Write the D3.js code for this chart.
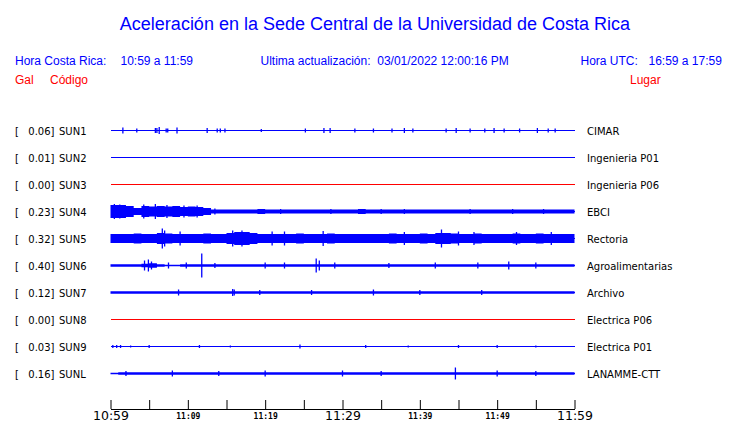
<!DOCTYPE html>
<html><head><meta charset="utf-8">
<script src="https://cdn.jsdelivr.net/npm/d3@7"></script>
<style>body{margin:0;background:#fff}svg{display:block}</style>
</head><body><svg id="c" width="740" height="423"></svg>
<script>
// ---- data ----
const codes  = ["SUN1","SUN2","SUN3","SUN4","SUN5","SUN6","SUN7","SUN8","SUN9","SUNL"];
const places = ["CIMAR","Ingenieria P01","Ingenieria P06","EBCI","Rectoria","Agroalimentarias","Archivo","Electrica P06","Electrica P01","LANAMME-CTT"];
const gals   = [0.06,0.01,0.00,0.23,0.32,0.40,0.12,0.00,0.03,0.16];
const tickTimes  = ["10:59","11:04","11:09","11:14","11:19","11:24","11:29","11:34","11:39","11:44","11:49","11:54","11:59"];
const tickLabels = ["10:59","11:09","11:19","11:29","11:39","11:49","11:59"];
const majorLabels = ["10:59","11:29","11:59"];

// per-minute envelope half-amplitudes (one value per minute, 10:59 -> 11:58)
const envSUN4 = [6.5,6.5,5.5,3.5,5.5,5,5.5,5,5.5,4.5,
                 5,4.5,3.5,2,2,2,2,2,2,2.5,
                 2,2,2,2,2,2,2,2,2,2,
                 2,2,2.5,2,2,2,2,2,2,2,
                 2,2,2,2,2,2,2,2,2,2,
                 2,2,2,2,2,2,2,2,2,2];
const envSUN5 = [4.5,4.5,4.5,5,4.5,4.5,5.5,5,4.5,4.5,
                 4.5,4.5,5,4.5,4.5,5.5,6.5,6.5,5.5,4.5,
                 4.5,4.5,4.5,4.5,5,4.5,4.5,4.5,5,4.5,
                 4.5,4.5,4.5,4.5,4.5,4.5,5,4.5,4.5,4.5,
                 5,4.5,5.5,5.5,5,4.5,4.5,5,4.5,4.5,
                 4.5,4.5,5,4.5,4.5,5,4.5,4.5,4.5,4.5];
const envSUN6 = [1.2,1.2,1.2,1.2,1.8,2.2,1.2,0.8,0.8,1.2,
                 1.2,1.2,1.2,1.2,1.2,1.2,1.2,1.2,1.2,1.2,
                 1.2,1.2,1.2,1.2,1.2,1.2,1.2,1.2,1.2,1.2,
                 1.2,1.2,1.2,1.2,1.2,1.2,1.2,1.2,1.2,1.2,
                 1.2,1.2,1.2,1.2,1.2,1.2,1.2,1.2,1.2,1.2,
                 1.2,1.2,1.2,1.2,1.2,1.2,1.2,1.2,1.2,1.2];
const envSUN7 = [1.3,1.3,1.3,1.3,1.3,1.3,1.3,1.3,1.3,1.3,
                 1.3,1.3,1.3,1.3,1.3,1.3,1.3,1.3,1.3,1.3,
                 1.3,1.3,1.3,1.3,1.3,1.3,1.3,1.3,1.3,1.3,
                 1.3,1.3,1.3,1.3,1.3,1.3,1.3,1.3,1.3,1.3,
                 1.3,1.3,1.3,1.3,1.3,1.3,1.3,1.3,1.3,1.3,
                 1.3,1.3,1.3,1.3,1.3,1.3,1.3,1.3,1.3,1.3];
const envSUNL = [0.8,1.2,1.2,1.2,1.2,1.2,1.2,1.2,1.2,1.2,
                 1.2,1.2,1.2,1.2,1.2,1.2,1.2,1.2,1.2,1.2,
                 1.2,1.2,1.2,1.2,1.2,1.2,1.2,1.2,1.2,1.2,
                 1.2,1.2,1.2,1.2,1.2,1.2,1.2,1.2,1.2,1.2,
                 1.2,1.2,1.2,1.2,1.2,1.2,1.2,1.2,1.2,1.2,
                 1.2,1.2,1.2,1.2,1.2,1.2,1.2,1.2,1.2,1.2];

// isolated spikes [minutes after 10:59, half-amplitude]
const spikesSUN1 = [[1.6,3],[3.4,2],[5.8,2.5],[6.0,2.5],[6.3,3.5],[7.2,2],[7.4,2],[8.6,3],[12.5,2.5],[13.8,2],[14.2,2],[14.8,2],[19.5,1.5],[25.2,2],[27.6,2.5],[28.4,2.5],[31.6,2],[34,2],[36.4,2],[38,2.5],[39.1,2],[43.4,2],[44.7,2.5],[46.5,2],[48.4,2],[49.6,2.5],[50.9,2],[52.9,2],[55.2,2.5],[56.6,2],[57.5,2]];
const spikesSUN4 = [[0.5,7.5],[1.2,7],[4.3,7],[5.8,7.5],[7.3,6.5],[9.5,6],[11.2,6],[13.5,3],[22,2.5],[28.5,2.5],[35,2.5],[38,2.5],[46.5,2.5],[52,2.5],[56,2.5]];
const spikesSUN5 = [[6.7,10],[7,8],[9,7],[15.8,8],[17,8],[20.9,7],[22.5,7],[27.5,7.5],[38,6.5],[42.8,9],[45,7],[47,6.5],[52.5,6.5],[57,6.5]];
const spikesSUN6 = [[4.4,5],[4.9,6],[5.3,4],[7.5,3],[9.8,3],[11.8,12],[13.5,2.5],[20,3],[22.5,3],[26.6,7],[27,5],[29,3],[36,2.5],[42,3],[47.5,3],[51.5,4],[55,3]];
const spikesSUN7 = [[8.8,3],[15.8,3.5],[16,3],[19.3,2.5],[26,2.5],[34,3],[40,2.5],[48,2.5]];
const spikesSUN9 = [[0.3,1.5],[0.8,1.5],[1.3,1.5],[2.6,1],[5,1.5],[11.5,1.5],[15.5,1],[24.5,2],[33,1.5],[38.5,1],[45,1.5],[50,1.5],[55,1]];
const spikesSUNL = [[2,2.5],[8,3],[14,2.5],[20,3],[30,3],[35,2.5],[44.6,6],[50,3],[55,2.5]];

const envelopes = {SUN4:envSUN4, SUN5:envSUN5, SUN6:envSUN6, SUN7:envSUN7, SUNL:envSUNL};
const spikes = {SUN1:spikesSUN1, SUN4:spikesSUN4, SUN5:spikesSUN5, SUN6:spikesSUN6, SUN7:spikesSUN7, SUN9:spikesSUN9, SUNL:spikesSUNL};

// ---- drawing ----
const BLUE = "#0000ff", RED = "#ff0000";
const svg = d3.select("#c");
const parse = d3.timeParse("%H:%M");
const t0 = parse("10:59"), t1 = parse("11:59");
const minute = m => new Date(t0.getTime() + m * 60000);
const x = d3.scaleTime().domain([t0, t1]).range([110.5, 574.5]);
const y = d3.scalePoint().domain(codes).range([116.5, 386.5]).padding(0.5);
const amp = d3.scaleLinear().domain([0, 10]).range([0, 10]);

// title & header
svg.append("text").attr("x", 375).attr("y", 30).attr("text-anchor", "middle")
  .attr("font-family", "Liberation Sans, Arial, sans-serif").attr("font-size", 18).attr("fill", BLUE)
  .text("Aceleración en la Sede Central de la Universidad de Costa Rica");
const hdr = [
  [15, 65, "Hora Costa Rica:", BLUE], [120.5, 65, "10:59 a 11:59", BLUE],
  [260.5, 65, "Ultima actualización:  03/01/2022 12:00:16 PM", BLUE],
  [580.5, 65, "Hora UTC:", BLUE], [648.5, 65, "16:59 a 17:59", BLUE],
  [15, 84, "Gal", RED], [50, 84, "Código", RED], [630, 84, "Lugar", RED]
];
svg.selectAll("text.hdr").data(hdr).join("text").attr("class", "hdr")
  .attr("x", d => d[0]).attr("y", d => d[1]).attr("fill", d => d[3])
  .attr("font-family", "Liberation Sans, Arial, sans-serif").attr("font-size", 12)
  .style("white-space", "pre").attr("xml:space", "preserve").text(d => d[2]);

// rows
const rows = svg.selectAll("g.row").data(codes).join("g").attr("class", "row")
  .attr("transform", d => `translate(0,${y(d)})`);
const lab = { "font-family": "DejaVu Sans, sans-serif", "font-size": 10, fill: "#000" };
function styl(sel){ Object.entries(lab).forEach(([k,v]) => sel.attr(k, v)); return sel; }
styl(rows.append("text").attr("x", 15).attr("y", 4.5).text("["));
styl(rows.append("text").attr("x", 54.5).attr("y", 4.5).attr("text-anchor", "end")
  .text((d, i) => gals[i].toFixed(2) + "]"));
styl(rows.append("text").attr("x", 59).attr("y", 4.5).text(d => d));
styl(rows.append("text").attr("x", 587).attr("y", 4.5).text((d, i) => places[i]));

const colorOf = i => gals[i] === 0 ? RED : BLUE;
rows.append("line").attr("x1", x(t0)).attr("x2", x(t1) + 0.5).attr("y1", 0.5).attr("y2", 0.5)
  .attr("stroke", (d, i) => colorOf(i)).attr("stroke-width", 1).attr("shape-rendering", "crispEdges");

const area = d3.area().curve(d3.curveStepAfter)
  .x((d, i) => x(minute(i))).y0(d => 0.5 + amp(d)).y1(d => 0.5 - amp(d));
rows.each(function(code, i) {
  const g = d3.select(this);
  const env = envelopes[code];
  if (env) g.append("path").datum(env.concat([env[env.length - 1]])).attr("d", area).attr("fill", colorOf(i));
  const sp = spikes[code];
  if (sp) g.selectAll("line.sp").data(sp).join("line").attr("class", "sp")
    .attr("x1", d => x(minute(d[0]))).attr("x2", d => x(minute(d[0])))
    .attr("y1", d => 0.5 - amp(d[1])).attr("y2", d => 0.5 + amp(d[1]))
    .attr("stroke", colorOf(i)).attr("stroke-width", 1.3);
});

// axis
const tickDates = tickTimes.map(parse);
const fmt = d3.timeFormat("%H:%M");
const axis = d3.axisBottom(x).tickValues(tickDates).tickSizeInner(-9).tickSizeOuter(0)
  .tickFormat(d => tickLabels.includes(fmt(d)) ? fmt(d) : "");
const ag = svg.append("g").attr("transform", "translate(0,409)").call(axis);
ag.select(".domain").attr("stroke", "#000");
ag.selectAll(".tick line").attr("stroke", "#000");
ag.selectAll(".tick text").attr("dy", null).attr("fill", "#000")
  .each(function(d) {
    const s = fmt(d), t = d3.select(this);
    if (majorLabels.includes(s)) t.attr("y", 11).attr("font-family", "DejaVu Sans, sans-serif").attr("font-size", 12.5);
    else t.attr("y", 9.5).attr("font-family", "DejaVu Sans Mono, monospace").attr("font-size", 8).attr("font-weight", "bold");
  });
</script></body></html>
